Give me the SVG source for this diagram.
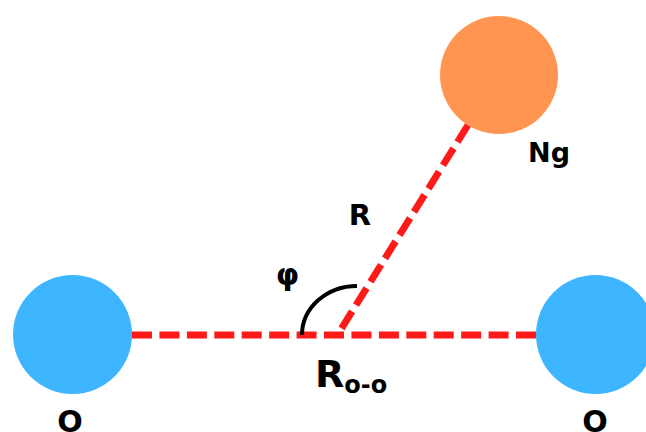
<svg xmlns="http://www.w3.org/2000/svg" width="646" height="432" viewBox="0 0 646 432">
  <style>
    .bond { stroke: #FF1A1A; stroke-width: 7; stroke-dasharray: 20 7.43; fill: none; }
    .lbl { font-family: "DejaVu Sans", "Liberation Sans", sans-serif; font-weight: bold; fill: #000; }
    .o-atom { fill: #3DB5FF; }
    .ng-atom { fill: #FF9550; }
  </style>
  <rect width="646" height="432" fill="#FFFFFF"/>
  <g id="connectors">
    <line class="bond" x1="132" y1="335" x2="536" y2="335"/>
    <line class="bond" x1="468" y1="125" x2="338" y2="334"/>
    <path id="angle-arc" d="M 302 335 A 55 49 0 0 1 357 286" fill="none" stroke="#000" stroke-width="4"/>
  </g>
  <g id="node-O-left">
    <circle class="o-atom" cx="72.5" cy="334.5" r="59.5"/>
    <text class="lbl" x="70" y="432" font-size="30" text-anchor="middle">O</text>
  </g>
  <g id="node-O-right">
    <circle class="o-atom" cx="595.5" cy="334.5" r="59.5"/>
    <text class="lbl" x="595" y="432" font-size="30" text-anchor="middle">O</text>
  </g>
  <g id="node-Ng">
    <circle class="ng-atom" cx="499" cy="75" r="59"/>
    <text class="lbl" x="549" y="162" font-size="27" text-anchor="middle">Ng</text>
  </g>
  <g id="labels">
    <text class="lbl" x="360" y="225" font-size="29" text-anchor="middle">R</text>
    <text class="lbl" x="287.5" y="285" font-size="30" text-anchor="middle">φ</text>
    <text class="lbl" x="315" y="387" font-size="38">R<tspan font-size="24" dy="6">o-o</tspan></text>
  </g>
</svg>
